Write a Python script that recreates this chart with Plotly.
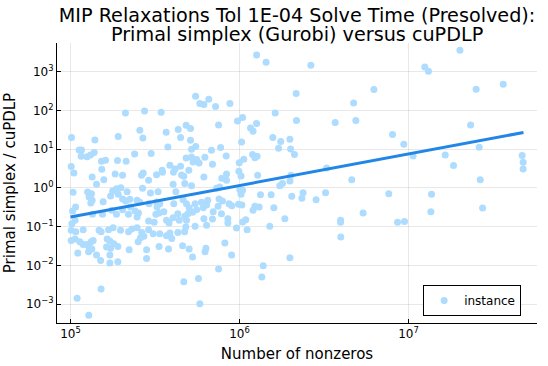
import plotly.graph_objects as go

# log10 of number of nonzeros
log10_nnz = [
    5.740, 5.765, 5.789, 5.818, 5.858, 5.325, 5.438, 5.536, 5.876, 5.006,
    5.144, 5.282, 5.410, 5.428, 5.566, 5.637, 5.684, 5.710, 5.651, 5.710,
    5.741, 5.716, 5.576, 5.834, 5.888, 5.051, 5.065, 5.063, 5.098, 5.118,
    5.140, 5.379, 5.477, 5.684, 5.716, 5.746, 5.725, 5.761, 5.795, 5.183,
    5.207, 5.278, 5.329, 5.840, 5.004, 5.020, 5.185, 5.264, 5.308, 5.128,
    5.420, 5.430, 5.509, 5.542, 5.544, 5.588, 5.619, 5.651, 5.609, 5.657,
    5.670, 5.700, 5.789, 5.197, 5.462, 5.154, 5.015, 5.101, 5.124, 5.110,
    5.128, 5.120, 5.193, 5.237, 5.249, 5.272, 5.298, 5.282, 5.308, 5.327,
    5.351, 5.335, 5.426, 5.473, 5.518, 5.394, 5.410, 5.465, 5.509, 5.528,
    5.512, 5.607, 5.623, 5.676, 5.716, 5.611, 5.666, 5.686, 5.702, 5.737,
    5.746, 5.775, 5.785, 5.805, 5.812, 5.844, 5.873, 5.864, 5.030, 5.012,
    5.008, 5.027, 5.130, 5.189, 5.244, 5.272, 5.308, 5.343, 5.355, 5.382,
    5.402, 5.394, 5.462, 5.495, 5.505, 5.524, 5.552, 5.568, 5.583, 5.607,
    5.635, 5.643, 5.676, 5.686, 5.737, 5.789, 5.805, 5.840, 5.694, 5.722,
    5.004, 5.031, 5.075, 5.169, 5.181, 5.225, 5.252, 5.296, 5.343, 5.363,
    5.394, 5.422, 5.462, 5.489, 5.528, 5.568, 5.588, 5.635, 5.599, 5.682,
    5.675, 5.004, 5.027, 5.055, 5.075, 5.098, 5.122, 5.134, 5.110, 5.126,
    5.107, 5.217, 5.233, 5.256, 5.280, 5.213, 5.237, 5.400, 5.414, 5.434,
    5.347, 5.450, 5.524, 5.580, 5.663, 5.702, 5.801, 5.796, 5.043, 5.154,
    5.178, 5.233, 5.233, 5.280, 5.450, 5.722, 5.876, 5.670, 5.757, 5.181,
    5.039, 5.765, 5.108, 6.101, 6.157, 6.422, 6.335, 6.675, 5.943, 6.211,
    5.988, 6.018, 6.101, 6.065, 6.080, 6.337, 6.566, 6.688, 6.197, 6.244,
    6.298, 6.231, 6.302, 6.325, 6.012, 5.921, 5.998, 6.025, 6.077, 6.091,
    6.104, 5.923, 5.895, 5.996, 6.009, 6.107, 6.515, 6.664, 6.304, 5.923,
    6.298, 6.238, 6.254, 5.893, 5.879, 5.899, 5.883, 5.938, 5.954, 5.994,
    6.014, 6.002, 6.009, 6.018, 6.124, 6.187, 6.091, 6.116, 6.080, 6.203,
    6.309, 6.369, 6.376, 6.453, 6.509, 6.731, 6.268, 5.931, 5.931, 6.018,
    6.037, 5.982, 6.045, 6.179, 6.598, 6.598, 6.599, 5.913, 5.953, 6.298,
    6.140, 6.132, 7.304, 7.096, 7.118, 6.795, 7.400, 7.560, 7.367, 6.905,
    6.972, 7.418, 7.027, 7.217, 7.266, 7.672, 7.678, 7.678, 7.424, 6.883,
    7.136, 6.935, 6.976, 7.132, 7.438,
]

# log10 of primal simplex / cuPDLP time ratio
log10_ratio = [
    2.364, 2.176, 2.150, 2.287, 2.098, 1.933, 1.984, 1.951, 1.623, 1.297,
    1.235, 1.323, 1.486, 1.287, 1.434, 1.504, 1.615, 1.530, 1.297, 1.227,
    1.065, 0.995, 1.054, 0.969, 1.039, 0.977, 0.977, 0.814, 0.806, 0.848,
    0.910, 0.873, 0.884, 0.770, 0.796, 0.729, 0.667, 0.641, 0.788, 0.685,
    0.711, 0.703, 0.685, 0.607, 0.548, 0.382, 0.478, 0.357, 0.323, 0.279,
    0.323, 0.382, 0.341, 0.452, 0.401, 0.581, 0.486, 0.556, 0.401, 0.331,
    0.297, 0.452, 0.279, 0.212, 0.194, 0.090, -0.116, -0.109, -0.150, -0.238,
    -0.323, -0.393, -0.357, -0.212, -0.083, -0.021, 0.005, -0.168, -0.289, -0.341,
    -0.297, -0.098, -0.013, -0.134, -0.098, -0.323, -0.375, -0.408, -0.367, -0.408,
    -0.496, 0.090, -0.098, 0.109, 0.057, -0.408, -0.305, -0.408, -0.512, -0.408,
    -0.563, -0.375, -0.512, -0.444, -0.323, -0.615, -0.478, -0.013, -0.496, -0.599,
    -0.925, -0.840, -0.685, -0.685, -0.581, -0.685, -0.563, -0.685, -0.496, -0.599,
    -0.651, -0.755, -0.858, -0.891, -0.685, -0.651, -0.615, -0.840, -0.910, -0.770,
    -0.667, -0.840, -0.736, -0.840, -0.995, -0.796, -0.969, -0.806, -0.667, -0.633,
    -1.098, -1.132, -1.080, -1.098, -1.132, -1.080, -1.028, -1.098, -1.132, -1.065,
    -1.028, -1.150, -1.080, -1.183, -1.183, -1.235, -1.168, -1.150, -1.305, -1.013,
    -1.132, -1.357, -1.323, -1.390, -1.460, -1.460, -1.390, -1.357, -1.530, -1.581,
    -1.649, -1.323, -1.375, -1.442, -1.512, -1.530, -1.563, -1.390, -1.287, -1.253,
    -1.597, -1.597, -1.512, -1.581, -1.494, -1.581, -1.563, -1.649, -1.685, -1.736,
    -1.873, -1.736, -1.943, -1.907, -1.822, -1.788, -2.098, -2.424, -2.339, -2.615,
    -2.848, -2.992, -3.287, 3.432, 3.243, 3.165, 2.434, 2.191, 2.176, 1.933,
    1.726, 1.814, 1.659, 1.545, 1.460, 1.736, 1.685, 1.736, 1.297, 1.194,
    1.253, 1.021, 1.003, 0.858, 1.183, 0.822, 0.651, 0.736, 0.858, 0.780,
    0.814, 0.357, 0.245, 0.426, 0.305, 0.323, 0.512, 0.212, 0.323, 0.194,
    0.176, 0.057, 0.109, -0.667, -0.289, -0.341, 0.021, -0.408, -0.460, -0.426,
    -0.444, -0.047, -0.168, -0.065, -0.176, -0.176, -0.478, -0.496, -0.581, -0.512,
    -0.220, -0.271, -0.124, -0.305, -0.124, -0.651, -0.796, -0.796, -0.910, -0.884,
    -0.822, -1.039, -1.080, -0.995, -0.840, -0.891, -1.271, -1.426, -1.736, -1.804,
    -2.010, -2.305, 3.553, 3.121, 3.010, 2.537, 2.545, 2.674, 1.623, 1.375,
    1.124, 1.047, 0.822, 0.848, 0.574, 0.832, 0.659, 0.486, 0.212, -0.150,
    -0.168, -0.891, -0.866, -0.615, -0.522,
]

# fitted trend line endpoints (log10)
fit_log10_nnz = [5.0, 7.68]
fit_log10_ratio = [-0.755, 1.43]

# tick positions and labels
x_tick_vals = [1e5, 1e6, 1e7]
x_tick_text = ['10<sup>5</sup>', '10<sup>6</sup>', '10<sup>7</sup>']
y_tick_vals = [1e-3, 1e-2, 1e-1, 1e0, 1e1, 1e2, 1e3]
y_tick_text = ['10<sup>−3</sup>', '10<sup>−2</sup>', '10<sup>−1</sup>', '10<sup>0</sup>',
               '10<sup>1</sup>', '10<sup>2</sup>', '10<sup>3</sup>']

title_line1 = 'MIP Relaxations Tol 1E-04 Solve Time (Presolved):'
title_line2 = 'Primal simplex (Gurobi) versus cuPDLP'

nnz = [10 ** v for v in log10_nnz]
ratio = [10 ** v for v in log10_ratio]

fig = go.Figure()

fig.add_trace(go.Scatter(
    x=nnz, y=ratio, mode='markers', name='instance',
    marker=dict(color='rgb(173,220,255)', size=7, line=dict(width=0))
))

fig.add_trace(go.Scatter(
    x=[10 ** v for v in fit_log10_nnz], y=[10 ** v for v in fit_log10_ratio],
    mode='lines', showlegend=False,
    line=dict(color='rgb(33,134,230)', width=3)
))

axis_common = dict(
    type='log', showgrid=True, gridcolor='rgba(0,0,0,0.09)', gridwidth=1,
    showline=True, linecolor='black', linewidth=1, mirror=False,
    ticks='inside', ticklen=4, tickcolor='black', zeroline=False,
    tickfont=dict(size=12, color='black'), automargin=False,
)

fig.update_layout(
    width=548, height=366,
    font=dict(family='DejaVu Sans', color='black'),
    title=dict(
        text=title_line1, x=0.542, xanchor='center',
        yref='container', y=1 - 15.5 / 366, yanchor='middle',
        font=dict(size=19.2)
    ),
    xaxis=dict(axis_common, range=[4.92, 7.76], tickvals=x_tick_vals, ticktext=x_tick_text,
               title=dict(text='Number of nonzeros', font=dict(size=15), standoff=8)),
    yaxis=dict(axis_common, range=[-3.49, 3.74], tickvals=y_tick_vals, ticktext=y_tick_text,
               title=dict(text='Primal simplex / cuPDLP', font=dict(size=15), standoff=6)),
    legend=dict(x=0.967, y=0.025, xanchor='right', yanchor='bottom',
                bordercolor='black', borderwidth=1, bgcolor='white',
                font=dict(size=12)),
    plot_bgcolor='white', paper_bgcolor='white',
    margin=dict(l=57, r=11, t=43, b=43),
)

fig.add_annotation(
    text=title_line2, xref='paper', yref='paper', x=0.5, y=(323 - 34.5) / 280,
    xanchor='center', yanchor='middle', showarrow=False, font=dict(size=19.2)
)

fig.write_html('out.html', config={'displayModeBar': False},
               post_script="document.body.style.margin='0';")
